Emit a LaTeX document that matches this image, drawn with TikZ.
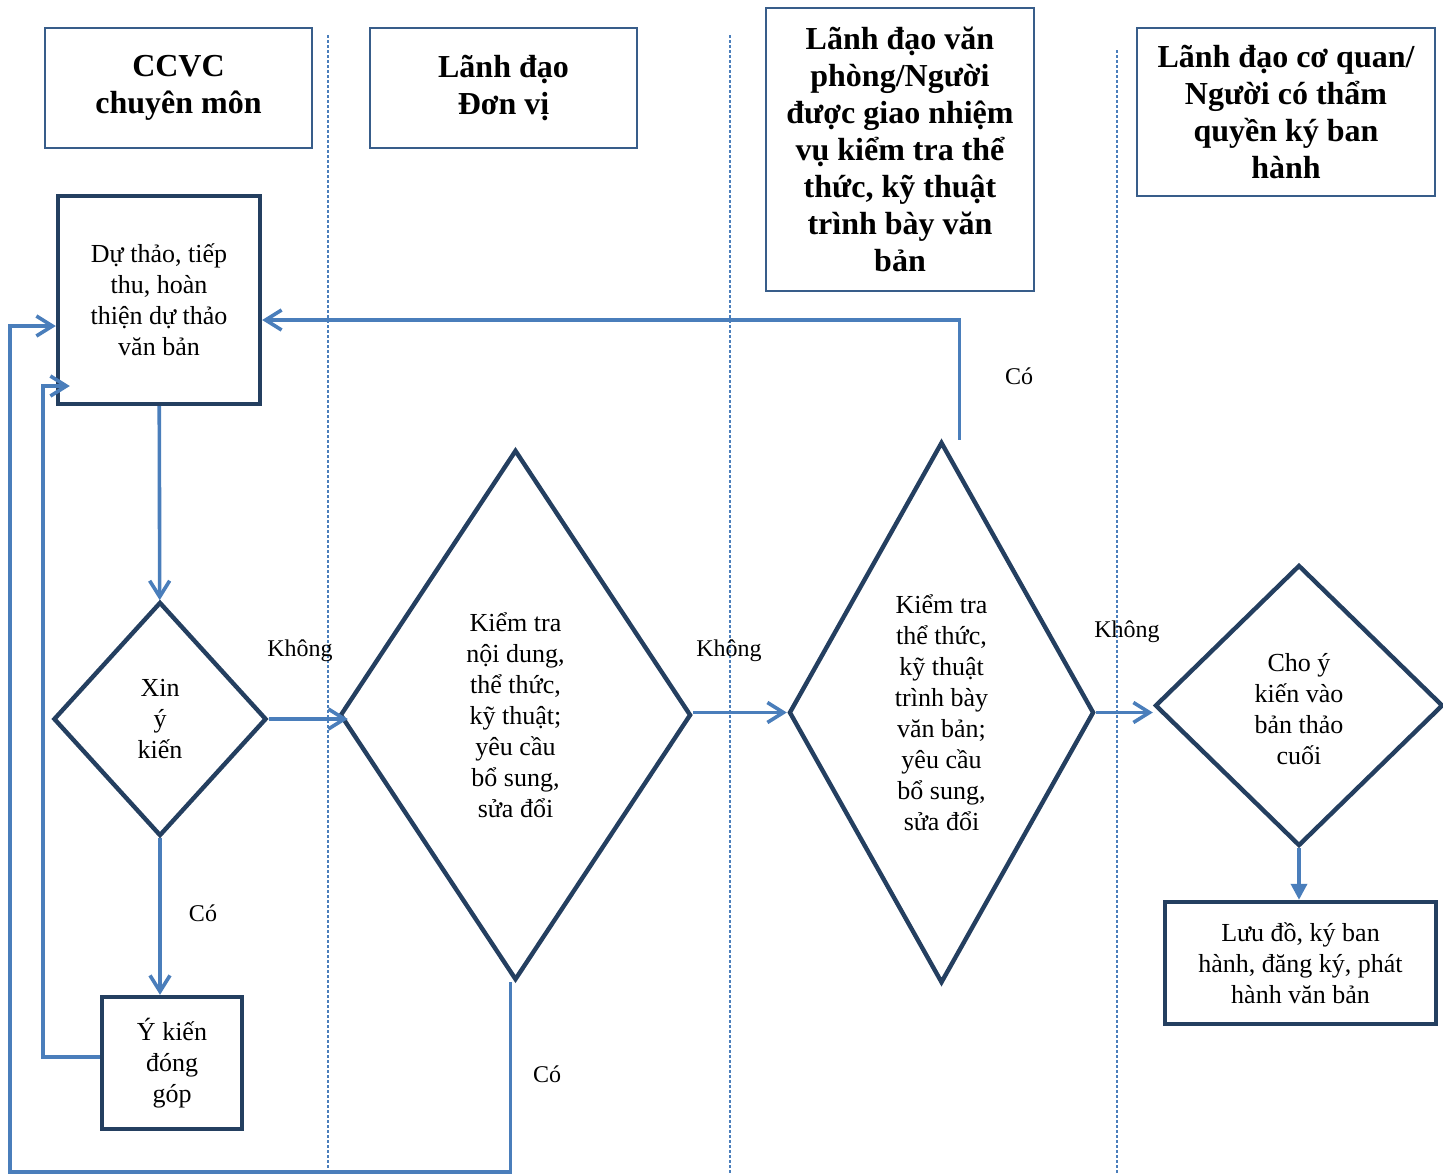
\documentclass[tikz,border=0pt]{standalone}
\usepackage{fontspec}
\setmainfont{Liberation Serif}
\usetikzlibrary{arrows.meta,shapes.geometric,positioning,calc}
\definecolor{lineblue}{HTML}{4A7EBB}
\definecolor{navy}{HTML}{243F60}
\definecolor{hdrline}{HTML}{385D8A}
\tikzstyle{hdr}=[draw=hdrline, line width=0.6pt, align=center, font=\fontsize{16}{18.5}\selectfont\bfseries, inner sep=0pt]
\tikzstyle{stepbox}=[draw=navy, line width=2.2pt, align=center, font=\fontsize{13}{15.5}\selectfont, inner sep=0pt]
\tikzstyle{decide}=[diamond, draw=navy, line width=2.2pt, inner sep=0pt, aspect=1]
\tikzstyle{dtext}=[align=center, font=\fontsize{13}{15.5}\selectfont, inner sep=0pt]
\tikzstyle{lbl}=[font=\fontsize{12}{14}\selectfont, inner sep=0pt]
\tikzstyle{arr}=[draw=lineblue, line width=1.8pt, -{Straight Barb[length=8pt,width=10pt]}]
\tikzstyle{lane}=[draw=lineblue, line width=0.6pt, dash pattern=on 1.5pt off 1pt]

\begin{document}
\begin{tikzpicture}[x=0.5pt, y=-0.5pt]
		\useasboundingbox (0,0) rectangle (1443,1173);
		% lanes
		\draw[lane] (328,35)--(328,1168);
		\draw[lane] (730,35)--(730,1173);
		\draw[lane] (1117,50)--(1117,1173);

		\node[hdr, minimum width=133.5pt, minimum height=60pt] (H1) at (178.5,88) {CCVC\\chuyên môn};
		\node[hdr, minimum width=133.5pt, minimum height=60pt] (H2) at (503.5,88) {Lãnh đạo\\Đơn vị};
		\node[hdr, minimum width=134pt, minimum height=141.5pt] (H3) at (900,149.5) {Lãnh đạo văn\\phòng/Người\\được giao nhiệm\\vụ kiểm tra thể\\thức, kỹ thuật\\trình bày văn\\bản};
		\node[hdr, minimum width=149pt, minimum height=84pt] (H4) at (1286,112) {Lãnh đạo cơ quan/\\Người có thẩm\\quyền ký ban\\hành};

		\node[stepbox, minimum width=101pt, minimum height=104pt] (DT) at (159,300) {Dự thảo, tiếp\\thu, hoàn\\thiện dự thảo\\văn bản};
		\node[decide, minimum width=106.5pt, minimum height=117pt] (XYK) at (160,719) {};
		\node[dtext] at (XYK) {Xin\\ý\\kiến};
		\node[stepbox, minimum width=70pt, minimum height=66pt] (YK) at (172,1063) {Ý kiến\\đóng\\góp};
		\node[decide, minimum width=175.5pt, minimum height=265pt] (KT1) at (515.5,715) {};
		\node[dtext] at (KT1) {Kiểm tra\\nội dung,\\thể thức,\\kỹ thuật;\\yêu cầu\\bổ sung,\\sửa đổi};
		\node[decide, minimum width=152.5pt, minimum height=270.5pt] (KT2) at (941.5,712.5) {};
		\node[dtext] at (KT2) {Kiểm tra\\thể thức,\\kỹ thuật\\trình bày\\văn bản;\\yêu cầu\\bổ sung,\\sửa đổi};
		\node[decide, minimum width=144pt, minimum height=140.5pt] (CY) at (1299,705.5) {};
		\node[dtext] at ([yshift=-2pt]CY) {Cho ý\\kiến vào\\bản thảo\\cuối};
		\node[stepbox, minimum width=135.5pt, minimum height=61pt] (LD) at (1300.5,963) {Lưu đồ, ký ban\\hành, đăng ký, phát\\hành văn bản};

		\node[lbl] (K1) at (300,651) {Không};
		\node[lbl] (K2) at (729,651) {Không};
		\node[lbl] (K3) at (1127,632) {Không};
		\node[lbl] (C1) at (203,913) {Có};
		\node[lbl] (C2) at (547,1074) {Có};
		\node[lbl] (C3) at (1019,376) {Có};

	\draw[arr](DT)--(XYK);
	\draw[arr](XYK.east)--([xshift=5pt]XYK.east -| KT1.west);
	\draw[arr](XYK.south)--(XYK.south |- YK.north);
	\draw[arr]([yshift=3pt]YK.west)--++(-57,0)|-([xshift=7pt,yshift=-43pt]DT.west);
	\draw[arr]([xshift=-2.5pt]KT1.south)--++(0,190)-|(10,326)--([yshift=-13pt]DT.west);
	\draw[arr](KT2.west -| KT1.east)--(KT2.west);
	\draw[arr]([xshift=9pt]KT2.north)|-([yshift=-10pt]DT.east);
	\draw[arr](KT2.east)--(KT2.east -| CY.west);
	\draw[draw=lineblue, line width=1.8pt, -{Triangle[length=8pt,width=8pt]}](CY.south)--(CY.south |- LD.north);
	\end{tikzpicture}
\end{document}
